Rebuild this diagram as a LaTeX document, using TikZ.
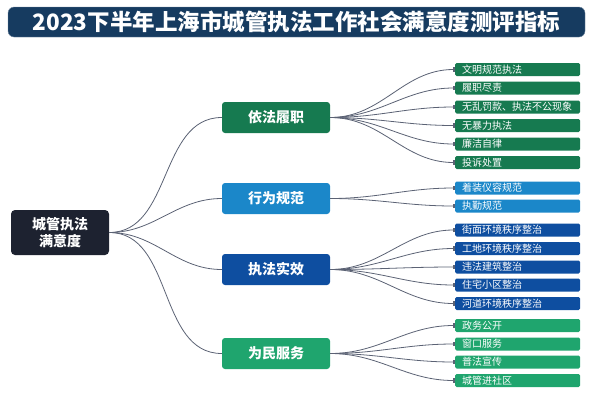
\documentclass[tikz,border=0pt]{standalone}
\usepackage{fontspec}
\setmainfont{Noto Sans CJK SC}
\usetikzlibrary{arrows.meta}
\definecolor{titlebg}{HTML}{163B60}
\definecolor{rootbg}{HTML}{1D2230}
\definecolor{grpa}{HTML}{167A50}
\definecolor{grpb}{HTML}{1B87C9}
\definecolor{grpc}{HTML}{0E4EA0}
\definecolor{grpd}{HTML}{1FA56E}
\definecolor{linecol}{HTML}{5B6274}
\tikzset{
  rootbox/.style={fill=rootbg, text=white, rounded corners=4pt, minimum width=98pt,
    minimum height=45pt, align=center, font=\fontsize{14}{17}\selectfont\bfseries},
  branch/.style={rounded corners=3pt, text=white, minimum width=108pt, minimum height=31pt,
    font=\fontsize{14}{16}\selectfont\bfseries},
  leaf/.style={anchor=west, rounded corners=1.5pt, text=white, minimum height=13pt,
    inner xsep=7pt, inner ysep=0pt, text width=111pt, align=left,
    font=\fontsize{10}{10}\selectfont},
  conn/.style={draw=linecol, line width=0.8pt, out=0, in=180},
  tab/.style={-{Rectangle[length=2pt,width=4.5pt]}}
}
\begin{document}
\begin{tikzpicture}[x=1pt,y=-1pt]
\useasboundingbox (0,0) rectangle (594,400);
% title bar
\node (title)[fill=titlebg, draw=titlebg!60, rounded corners=6pt, minimum width=577pt,
  minimum height=30pt, inner ysep=0pt, text=white, font=\fontsize{22.5}{23}\selectfont\bfseries] at (296.5,22)
  {2023下半年上海市城管执法工作社会满意度测评指标};

\node (root)[rootbox] at (60,232.5) {城管执法\\满意度};

\node (b1)[branch, fill=grpa] at (276,117.5) {依法履职};
\node (b2)[branch, fill=grpb] at (276,198.5) {行为规范};
\node (b3)[branch, fill=grpc] at (276,269.5) {执法实效};
\node (b4)[branch, fill=grpd] at (276,353.5) {为民服务};

\node (l11)[leaf, fill=grpa] at (455,69.5) {文明规范执法};
\node (l12)[leaf, fill=grpa] at (455,88) {履职尽责};
\node (l13)[leaf, fill=grpa] at (455,107) {无乱罚款、执法不公现象};
\node (l14)[leaf, fill=grpa] at (455,125.5) {无暴力执法};
\node (l15)[leaf, fill=grpa] at (455,144) {廉洁自律};
\node (l16)[leaf, fill=grpa] at (455,162.5) {投诉处置};

\node (l21)[leaf, fill=grpb] at (455,188) {着装仪容规范};
\node (l22)[leaf, fill=grpb] at (455,206) {执勤规范};

\node (l31)[leaf, fill=grpc] at (455,230) {街面环境秩序整治};
\node (l32)[leaf, fill=grpc] at (455,248.5) {工地环境秩序整治};
\node (l33)[leaf, fill=grpc] at (455,267) {违法建筑整治};
\node (l34)[leaf, fill=grpc] at (455,285) {住宅小区整治};
\node (l35)[leaf, fill=grpc] at (455,303.5) {河道环境秩序整治};

\node (l41)[leaf, fill=grpd] at (455,325.5) {政务公开};
\node (l42)[leaf, fill=grpd] at (455,344) {窗口服务};
\node (l43)[leaf, fill=grpd] at (455,362) {普法宣传};
\node (l44)[leaf, fill=grpd] at (455,380.5) {城管进社区};

% root to branches
\draw[conn] (root.east) to (b1.west);
\draw[conn] (root.east) to (b2.west);
\draw[conn] (root.east) to (b3.west);
\draw[conn] (root.east) to (b4.west);

% branches to leaves
\draw[conn, tab] (b1.east) to (l11.west);
\draw[conn, tab] (b1.east) to (l12.west);
\draw[conn, tab] (b1.east) to (l13.west);
\draw[conn, tab] (b1.east) to (l14.west);
\draw[conn, tab] (b1.east) to (l15.west);
\draw[conn, tab] (b1.east) to (l16.west);
\draw[conn, tab] (b2.east) to (l21.west);
\draw[conn, tab] (b2.east) to (l22.west);
\draw[conn, tab] (b3.east) to (l31.west);
\draw[conn, tab] (b3.east) to (l32.west);
\draw[conn, tab] (b3.east) to (l33.west);
\draw[conn, tab] (b3.east) to (l34.west);
\draw[conn, tab] (b3.east) to (l35.west);
\draw[conn, tab] (b4.east) to (l41.west);
\draw[conn, tab] (b4.east) to (l42.west);
\draw[conn, tab] (b4.east) to (l43.west);
\draw[conn, tab] (b4.east) to (l44.west);
\end{tikzpicture}
\end{document}
